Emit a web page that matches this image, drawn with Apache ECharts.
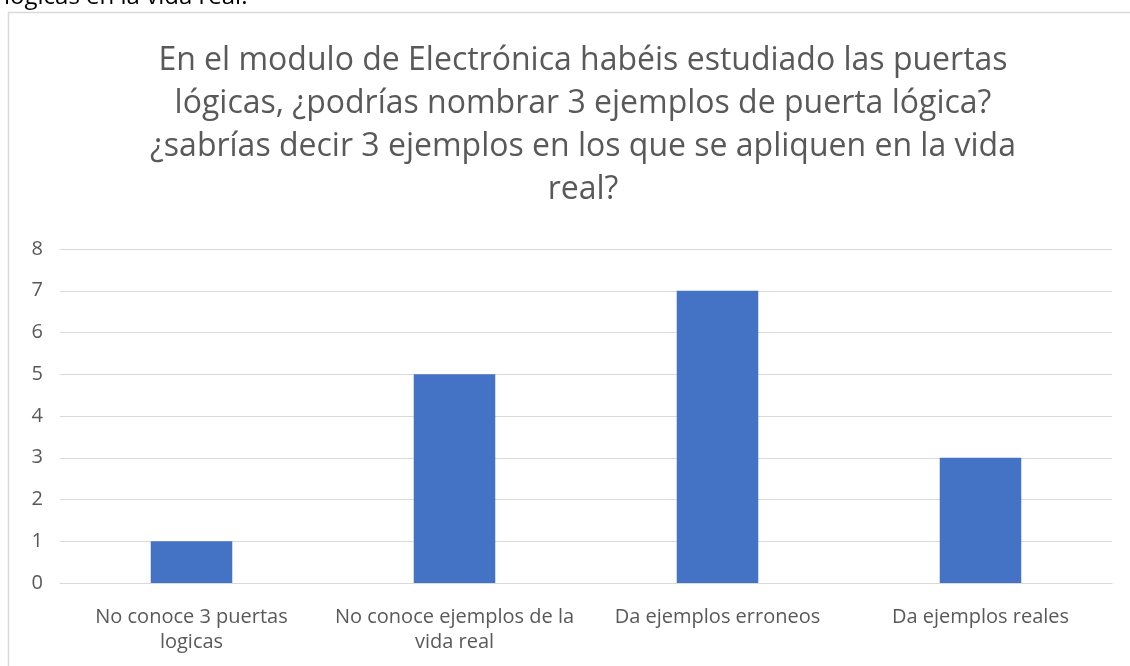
<!DOCTYPE html>
<html><head><meta charset="utf-8">
<script src="https://cdn.jsdelivr.net/npm/echarts@6/dist/echarts.min.js"></script>
<style>html,body{margin:0;padding:0;background:#fff;}#c{width:1130px;height:666px;}</style>
</head><body><div id="c"></div>
<script>
const categories = ['No conoce 3 puertas\nlogicas', 'No conoce ejemplos de la\nvida real', 'Da ejemplos erroneos', 'Da ejemplos reales'];
const values = [1, 5, 7, 3];
const yTicks = [0, 1, 2, 3, 4, 5, 6, 7, 8];
const titleText = 'En el modulo de Electrónica habéis estudiado las puertas\nlógicas, ¿podrías nombrar 3 ejemplos de puerta lógica?\n¿sabrías decir 3 ejemplos en los que se apliquen en la vida\nreal?';
const topText = 'lógicas en la vida real.';

const chart = echarts.init(document.getElementById('c'));
chart.setOption({
  animation: false,
  backgroundColor: '#fff',
  graphic: [
    { type: 'rect', shape: { x: 8.5, y: 12.5, width: 1140, height: 700 }, style: { fill: 'none', stroke: '#d9d9d9', lineWidth: 1.5 }, z: 0 },
    { type: 'text', x: 4, y: 9, style: { text: topText, font: '24px "Open Sans", sans-serif', fill: '#000', verticalAlign: 'bottom' } }
  ],
  title: {
    text: titleText,
    left: 578, top: 34, textAlign: 'center',
    textStyle: { fontFamily: '"Open Sans", sans-serif', fontSize: 32, fontWeight: 'normal', color: '#595959', lineHeight: 43 }
  },
  grid: { left: 60, right: 18, top: 249, bottom: 83, containLabel: false },
  xAxis: {
    type: 'category', data: categories,
    axisLine: { lineStyle: { color: '#d9d9d9', width: 1 } },
    axisTick: { show: false },
    axisLabel: { color: '#595959', fontSize: 20, fontFamily: '"Open Sans", sans-serif', lineHeight: 25, margin: 22, interval: 0 }
  },
  yAxis: {
    type: 'value', min: 0, max: 8, interval: 1,
    axisLine: { show: false }, axisTick: { show: false },
    splitLine: { lineStyle: { color: '#d9d9d9', width: 1 } },
    axisLabel: { color: '#595959', fontSize: 20, fontFamily: '"Open Sans", sans-serif', margin: 17,
      formatter: v => yTicks.includes(v) ? String(v) : '' }
  },
  series: [{
    type: 'bar', data: values, barWidth: '31%',
    itemStyle: { color: '#4472c4' }
  }]
});
</script></body></html>
